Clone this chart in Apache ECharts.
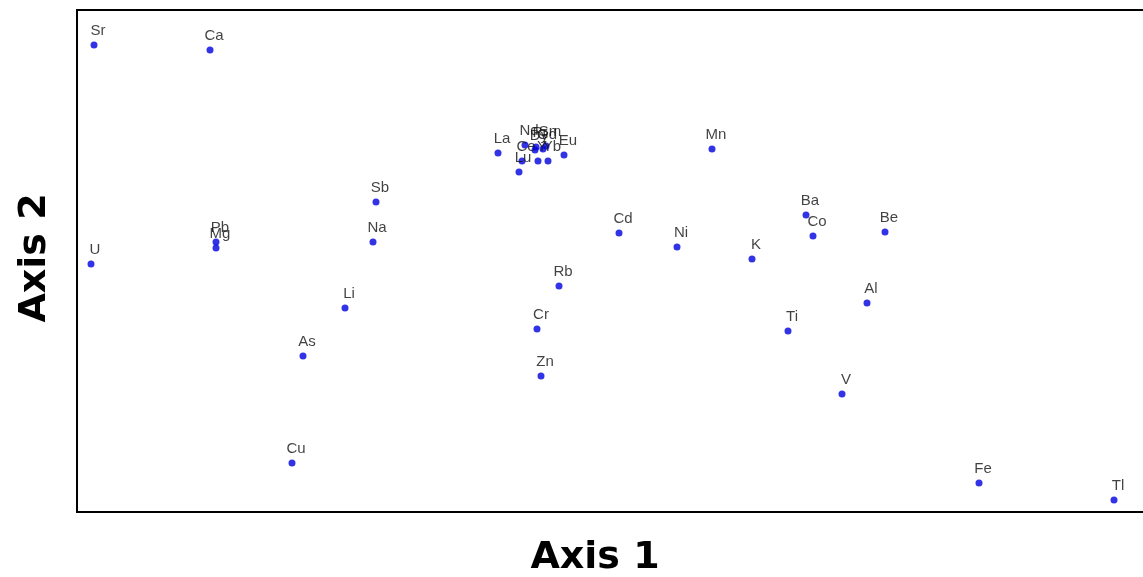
<!DOCTYPE html>
<html>
<head>
<meta charset="utf-8">
<script src="https://cdn.jsdelivr.net/npm/echarts@6/dist/echarts.min.js"></script>
<style>
  html, body { margin: 0; padding: 0; background: #ffffff; }
  #chart { width: 1143px; height: 577px; }
</style>
</head>
<body>
<div id="chart"></div>
<script>
// Element names and their ordination scores (Axis 1, Axis 2)
const elements = ['Sr', 'Ca', 'U', 'Pb', 'Mg', 'Sb', 'Na', 'Li', 'As', 'Cu',
  'La', 'Nd', 'Pr', 'Sm', 'Gd', 'Dy', 'Ce', 'Y', 'Yb', 'Eu', 'Lu',
  'Mn', 'Cd', 'Ni', 'Rb', 'Cr', 'Zn', 'K', 'Ba', 'Co', 'Be', 'Ti', 'Al', 'V', 'Fe', 'Tl'];
const axis1 = [0.085, 0.665, 0.07, 0.695, 0.695, 1.495, 1.48, 1.34, 1.13, 1.075,
  2.105, 2.24, 2.295, 2.345, 2.33, 2.29, 2.225, 2.305, 2.355, 2.435, 2.21,
  3.175, 2.71, 3.00, 2.41, 2.30, 2.32, 3.375, 3.645, 3.68, 4.04, 3.555, 3.95, 3.825, 4.51, 5.185];
const axis2 = [2.335, 2.31, 1.24, 1.35, 1.32, 1.55, 1.35, 1.02, 0.78, 0.245,
  1.795, 1.835, 1.825, 1.83, 1.815, 1.81, 1.755, 1.755, 1.755, 1.785, 1.70,
  1.815, 1.395, 1.325, 1.13, 0.915, 0.68, 1.265, 1.485, 1.38, 1.40, 0.905, 1.045, 0.59, 0.145, 0.06];
const axisTitles = ['Axis 1', 'Axis 2'];

const points = elements.map((name, i) => ({ name: name, value: [axis1[i], axis2[i]] }));

const chart = echarts.init(document.getElementById('chart'), null, { renderer: 'canvas' });

const hiddenAxis = {
  axisLine: { show: false },
  axisTick: { show: false },
  axisLabel: { show: false },
  splitLine: { show: false }
};

const titleStyle = {
  fontFamily: 'DejaVu Sans',
  fontWeight: 'bold',
  fontSize: 38,
  fill: '#000000',
  align: 'center',
  verticalAlign: 'middle'
};

chart.setOption({
  backgroundColor: '#ffffff',
  animation: false,
  grid: {
    show: true,
    left: 77,
    right: -10,
    top: 10,
    bottom: 65,
    outerBoundsMode: 'none',
    containLabel: false,
    borderColor: '#000000',
    borderWidth: 2,
    backgroundColor: '#ffffff'
  },
  xAxis: Object.assign({ type: 'value', min: 0, max: 5.38 }, hiddenAxis),
  yAxis: Object.assign({ type: 'value', min: 0, max: 2.51 }, hiddenAxis),
  graphic: [
    {
      type: 'text',
      x: 595,
      y: 558,
      style: Object.assign({ text: axisTitles[0] }, titleStyle)
    },
    {
      type: 'text',
      x: 35,
      y: 258,
      rotation: Math.PI / 2,
      style: Object.assign({ text: axisTitles[1] }, titleStyle)
    }
  ],
  series: [{
    type: 'scatter',
    data: points,
    symbol: 'circle',
    symbolSize: 7,
    itemStyle: { color: '#0000e0' },
    label: {
      show: true,
      formatter: '{b}',
      position: [7.5, -18],
      align: 'center',
      verticalAlign: 'top',
      fontFamily: 'Liberation Sans',
      fontSize: 15,
      color: '#111111'
    },
    labelLayout: { hideOverlap: false }
  }]
});
</script>
</body>
</html>
